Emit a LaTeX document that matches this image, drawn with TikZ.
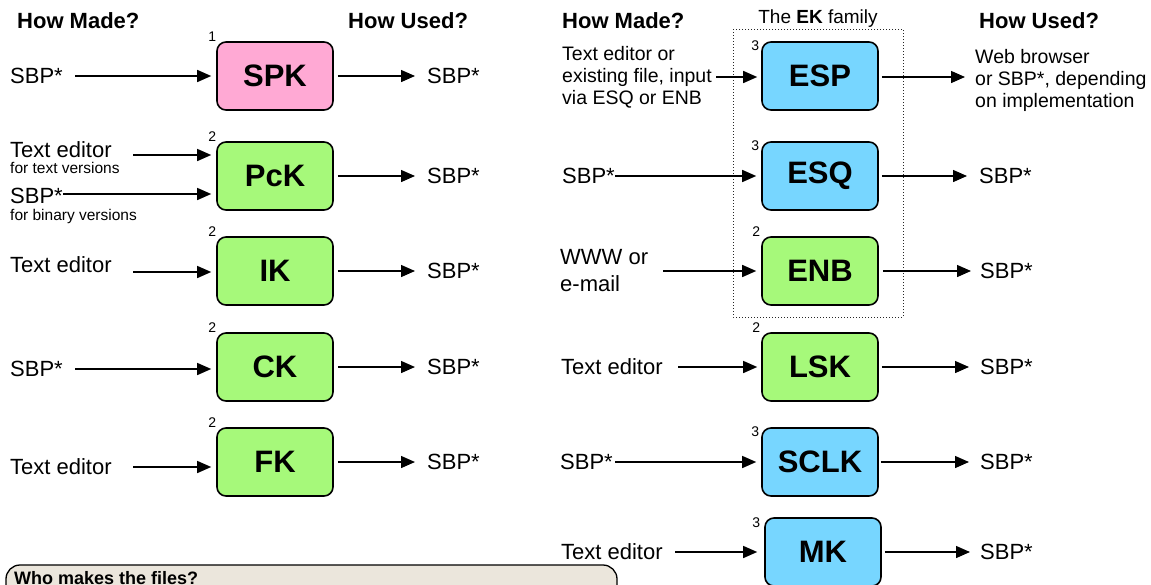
\documentclass[tikz,border=0pt]{standalone}
\usepackage{fontspec}
\setmainfont{Liberation Sans}
\usetikzlibrary{arrows.meta,calc}
\definecolor{kpink}{HTML}{FFA9D4}
\definecolor{kgreen}{HTML}{A6F97A}
\definecolor{kblue}{HTML}{77D6FF}
\definecolor{kbeige}{HTML}{EBE6DC}
\begin{document}
\begin{tikzpicture}[x=1pt,y=-1pt,
  kbox/.style={draw=black,line width=1.6pt,rounded corners=9pt,minimum width=116pt,minimum height=68pt,inner sep=0pt,font=\fontsize{31}{31}\selectfont\bfseries},
  txt/.style={anchor=west,inner sep=0pt,font=\fontsize{22}{26}\selectfont,align=left},
  desc/.style={anchor=west,inner sep=0pt,font=\fontsize{19.5}{22}\selectfont,align=left},
  small/.style={anchor=west,inner sep=0pt,font=\fontsize{15.5}{18}\selectfont},
  num/.style={inner sep=0pt,font=\fontsize{14}{14}\selectfont},
  head/.style={anchor=west,inner sep=0pt,font=\fontsize{22}{26}\selectfont\bfseries},
  arr/.style={line width=1.4pt,-{Triangle[length=14pt,width=12pt]}},
  inarr/.style={arr,shorten >=5pt},
  outarr/.style={arr,shorten <=4pt,shorten >=12pt},
]
\useasboundingbox (0,0) rectangle (1151,584);
\clip (0,0) rectangle (1151,584);

% headers
\node[head] (hm1) at (17,21) {How Made?};
\node[head] (hu1) at (348,21) {How Used?};
\node[head] (hm2) at (562,21) {How Made?};
\node[head] (hu2) at (979,21) {How Used?};

% EK family frame
\draw[dotted,line width=1pt,draw=black!85] (733,29) rectangle (903,317);
\node[inner sep=0pt,font=\fontsize{19}{19}\selectfont] (ekl) at (818,19) {The \textbf{EK} family};

% left boxes
\node[kbox,fill=kpink]  (SPK) at (275,76)  {SPK};
\node[kbox,fill=kgreen] (PcK) at (275,176) {PcK};
\node[kbox,fill=kgreen] (IK)  at (275,271) {IK};
\node[kbox,fill=kgreen] (CK)  at (275,367) {CK};
\node[kbox,fill=kgreen] (FK)  at (275,462) {FK};

\node[num] (n1) at ($(SPK.north west)+(-4,-5)$) {1};
\node[num] (n2) at ($(PcK.north west)+(-4,-5)$) {2};
\node[num] (n3) at ($(IK.north west)+(-4,-5)$) {2};
\node[num] (n4) at ($(CK.north west)+(-4,-5)$) {2};
\node[num] (n5) at ($(FK.north west)+(-4,-5)$) {2};

% right boxes
\node[kbox,fill=kblue]  (ESP)  at (820,76)  {ESP};
\node[kbox,fill=kblue]  (ESQ)  at (820,176) {ESQ};
\node[kbox,fill=kgreen] (ENB)  at (820,271) {ENB};
\node[kbox,fill=kgreen] (LSK)  at (820,367) {LSK};
\node[kbox,fill=kblue]  (SCLK) at (820,462) {SCLK};
\node[kbox,fill=kblue]  (MK)   at (823,552) {MK};

\node[num] (n6)  at ($(ESP.north west)+(-6,4)$) {3};
\node[num] (n7)  at ($(ESQ.north west)+(-6,4)$) {3};
\node[num] (n8)  at ($(ENB.north west)+(-5,-5)$) {2};
\node[num] (n9)  at ($(LSK.north west)+(-5,-5)$) {2};
\node[num] (n10) at ($(SCLK.north west)+(-6,4)$) {3};
\node[num] (n11) at ($(MK.north west)+(-8,5)$) {3};

% left inputs
\node[txt] (i1) at (10,76) {SBP*};
\coordinate (a1) at (75,76);
\draw[inarr] (a1) -- (a1 -| SPK.west);

\node[txt] (i2a) at (10,150) {Text editor};
\node[small] (i2b) at (10,168) {for text versions};
\node[txt] (i2c) at (10,196) {SBP*};
\node[small] (i2d) at (10,216) {for binary versions};
\coordinate (a2a) at (133,155);
\coordinate (a2b) at (63,194);
\draw[inarr] (a2a) -- (a2a -| PcK.west);
\draw[inarr] (a2b) -- (a2b -| PcK.west);

\node[txt] (i3) at (10,265) {Text editor};
\coordinate (a3) at (133,272);
\draw[inarr] (a3) -- (a3 -| IK.west);

\node[txt] (i4) at (10,369) {SBP*};
\coordinate (a4) at (75,369);
\draw[inarr] (a4) -- (a4 -| CK.west);

\node[txt] (i5) at (10,467) {Text editor};
\coordinate (a5) at (133,467);
\draw[inarr] (a5) -- (a5 -| FK.west);

% left outputs
\node[txt] (o1) at (427,76)  {SBP*};
\node[txt] (o2) at (427,176) {SBP*};
\node[txt] (o3) at (427,271) {SBP*};
\node[txt] (o4) at (427,367) {SBP*};
\node[txt] (o5) at (427,462) {SBP*};
\draw[outarr] (SPK.east) -- (o1.west);
\draw[outarr] (PcK.east) -- (o2.west);
\draw[outarr] (IK.east)  -- (o3.west);
\draw[outarr] (CK.east)  -- (o4.west);
\draw[outarr] (FK.east)  -- (o5.west);

% right inputs
\node[desc] (j1) at (562,77) {Text editor or\\existing file, input\\via ESQ or ENB};
\coordinate (b1) at (716,77);
\draw[arr,shorten >=4pt] (b1) -- (b1 -| ESP.west);

\node[txt] (j2) at (562,176) {SBP*};
\coordinate (b2) at (615,176);
\draw[inarr] (b2) -- (b2 -| ESQ.west);

\node[txt,font=\fontsize{22}{27}\selectfont] (j3) at (560,271) {WWW or\\e-mail};
\coordinate (b3) at (663,271);
\draw[inarr] (b3) -- (b3 -| ENB.west);

\node[txt] (j4) at (561,367) {Text editor};
\coordinate (b4) at (678,367);
\draw[arr,shorten >=4pt] (b4) -- (b4 -| LSK.west);

\node[txt] (j5) at (560,462) {SBP*};
\coordinate (b5) at (615,462);
\draw[inarr] (b5) -- (b5 -| SCLK.west);

\node[txt] (j6) at (561,552) {Text editor};
\coordinate (b6) at (675,552);
\draw[arr,shorten >=7pt] (b6) -- (b6 -| MK.west);

% right outputs
\node[desc] (p1) at (975,80) {Web browser\\or SBP*, depending\\on implementation};
\coordinate (e1) at (965,77);
\draw[arr,shorten <=3pt] (ESP.east |- e1) -- (e1);
\node[txt] (p2) at (979,176) {SBP*};
\node[txt] (p3) at (980,271) {SBP*};
\node[txt] (p4) at (980,367) {SBP*};
\node[txt] (p5) at (980,462) {SBP*};
\node[txt] (p6) at (980,552) {SBP*};
\draw[arr,shorten <=3pt,shorten >=12pt] (ESQ.east)  -- (p2.west);
\draw[arr,shorten <=4pt,shorten >=9pt]  (ENB.east)  -- (p3.west);
\draw[arr,shorten <=3pt,shorten >=11pt] (LSK.east)  -- (p4.west);
\draw[arr,shorten <=2pt,shorten >=11pt] (SCLK.east) -- (p5.west);
\draw[arr,shorten <=3pt,shorten >=10pt] (MK.east)   -- (p6.west);

% bottom note box
\draw[line width=1.3pt,fill=kbeige,rounded corners=14pt] (6,565) rectangle (617,650);
\node[anchor=north west,inner sep=0pt,font=\fontsize{18}{18}\selectfont\bfseries] (who) at (14,571) {Who makes the files?};
\end{tikzpicture}
\end{document}
